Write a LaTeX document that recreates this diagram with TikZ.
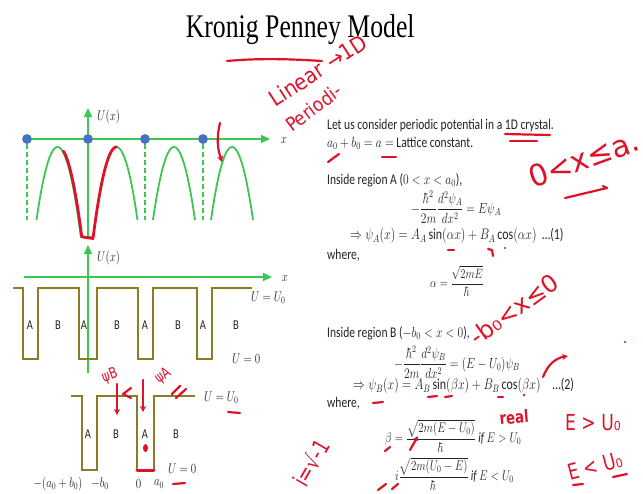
\RequirePackage{fix-cm}
\documentclass[tikz,border=0pt]{standalone}
\usepackage{amsmath}
\usepackage{graphicx}
\usepackage{fontspec}
\setmainfont{Carlito}
\newfontfamily\titlefont{Liberation Serif}
\newfontfamily\handfont{DejaVu Sans}
\usetikzlibrary{arrows.meta}
\definecolor{axgreen}{RGB}{60,200,80}
\definecolor{dotblue}{RGB}{70,114,196}
\definecolor{olivewave}{RGB}{140,124,40}
\definecolor{penred}{RGB}{222,18,40}
\definecolor{textgray}{RGB}{35,35,35}
\newcommand{\sq}[1]{\scalebox{0.78}[1]{#1}}
\newcommand{\hsq}[1]{\scalebox{0.9}[1]{#1}}
\newcommand{\hw}[1]{\handfont\fontsize{#1}{#1}\selectfont}
\newcommand{\fs}[1]{\fontsize{#1}{#1}\selectfont}
\begin{document}
\begin{tikzpicture}[x=1pt,y=-1pt,
  gax/.style={draw=axgreen,line width=2pt,-{Triangle[width=8pt,length=9pt]}},
  gcurve/.style={draw=axgreen,line width=1.8pt},
  gdash/.style={draw=axgreen,line width=1.8pt,dash pattern=on 5pt off 3pt},
  bdot/.style={circle,fill=dotblue,inner sep=0pt,minimum size=9.5pt},
  wave/.style={draw=olivewave,line width=2pt},
  txt/.style={inner sep=0pt,text=textgray,font=\fs{14.8}},
  lab/.style={inner sep=0pt,text=textgray,font=\fs{14}},
  redpen/.style={draw=penred,line width=2.2pt,line cap=round,line join=round},
  redtxt/.style={inner sep=0pt,text=penred}]
\useasboundingbox (0,0) rectangle (643,493);
\clip (0,0) rectangle (643,493);
\fill[white] (0,0) rectangle (643,493);

% ---------- title ----------
\node[anchor=base,inner sep=0pt,text=black] (title) at (297,37)
  {\sq{\titlefont\fs{33} Kronig Penney Model}};

% ---------- top diagram ----------
\node[bdot] (d1) at (27,139) {};
\node[bdot] (d2) at (88,139) {};
\node[bdot] (d3) at (145,139) {};
\node[bdot] (d4) at (203,139) {};
\coordinate (xa1) at (270,139);
\coordinate (ya1b) at (88,238);
\coordinate (ya1t) at (88,108);
\draw[gax] (ya1b) -- (ya1t);
\draw[gax] (d1.center) -- (xa1);
\node[bdot] at (27,139) {};
\node[bdot] at (88,139) {};
\node[bdot] at (145,139) {};
\node[bdot] at (203,139) {};
\coordinate (f1) at (27,220);
\coordinate (f3) at (145,220);
\coordinate (f4) at (203,220);
\draw[gdash] (d1) -- (f1);
\draw[gdash] (d3) -- (f3);
\draw[gdash] (d4) -- (f4);
\draw[gcurve] plot[domain=-21:23.3,samples=40] ({57.5+\x},{147+73*(\x/21)^2})
   -- plot[domain=-23.3:21,samples=40] ({116.5+\x},{147+73*(\x/21)^2});
\draw[gcurve] plot[domain=-21:21,samples=40] ({174+\x},{147+73*(\x/21)^2});
\draw[gcurve] plot[domain=-21:21,samples=40] ({232+\x},{147+73*(\x/21)^2});
\node[lab,anchor=west] (u1) at (97,117) {\sq{$U(x)$}};
\node[lab] (x1) at (284,140) {\sq{$x$}};

% red trace on top diagram
\draw[redpen,line width=2.8pt] plot[domain=5:23.3,samples=30] ({58.5+\x},{147+73*(\x/21)^2})
   -- (93,238.5) -- plot[domain=-23:0,samples=30] ({116.5+\x},{147+73*(\x/21)^2});
\coordinate (ra1) at (220,123);
\coordinate (ra2) at (222,162);
\draw[redpen,-{Stealth[length=6pt,width=6pt]}] (ra1) .. controls (216,140) and (218,150) .. (ra2);

% ---------- middle diagram ----------
\coordinate (ya2b) at (88,373);
\coordinate (ya2t) at (88,245);
\coordinate (xa2l) at (24,277);
\coordinate (xa2r) at (272,277);
\draw[gax] (ya2b) -- (ya2t);
\draw[gax] (xa2l) -- (xa2r);
\draw[wave] (13,288) -- (23,288) -- (23,359) -- (38,359) -- (38,288) -- (79,288) -- (79,359)
  -- (97,359) -- (97,288) -- (138,288) -- (138,359) -- (153,359) -- (153,288) -- (197,288)
  -- (197,359) -- (212,359) -- (212,288) -- (252,288);
\node[lab,anchor=west] (u2) at (97,258) {\sq{$U(x)$}};
\node[lab] (x2) at (285,278) {\sq{$x$}};
\foreach \p/\l in {30/A,58/B,84/A,117/B,145/A,178/B,203/A,236/B}
  \node[txt,font=\fs{13.5}] at (\p,325) {\sq{\l}};
\node[lab,anchor=west] (uu0a) at (251,298) {\sq{$U=U_0$}};
\node[lab,anchor=west] (u0a) at (232,359) {\sq{$U=0$}};

% ---------- bottom diagram ----------
\draw[wave] (71,396) -- (82,396) -- (82,470) -- (97,470) -- (97,396) -- (137,396) -- (137,470)
  -- (154,470) -- (154,396) -- (195,396);
\foreach \p/\l in {88/A,116/B,145/A,176/B}
  \node[txt,font=\fs{13.5}] at (\p,434) {\sq{\l}};
\node[lab,anchor=west] (uu0b) at (204,398) {\sq{$U=U_0$}};
\node[lab,anchor=west] (u0b) at (168,469) {\sq{$U=0$}};
\node[lab] (t1) at (58,484) {\sq{$-(a_0+b_0)$}};
\node[lab] (t2) at (100,484) {\sq{$-b_0$}};
\node[lab] (t3) at (138.5,484) {\sq{$0$}};
\node[lab] (t4) at (159,484) {\sq{$a_0$}};

% red marks on bottom diagram
\draw[redpen,line width=3pt] (137,470) -- (154,470);
\fill[penred] (145.5,448) ellipse (2.5pt and 4pt);
\draw[redpen] (228,412) -- (240,413);
\draw[redpen] (173,484) -- (185,483);
\node[redtxt,rotate=20] (psib) at (110,376) {\hw{15}\sq{ψB}};
\node[redtxt,rotate=35] (psia) at (163,376) {\hw{15}\sq{ψA}};
\coordinate (pb1) at (117,384);
\coordinate (pb2) at (117,415);
\coordinate (pa1) at (143,380);
\coordinate (pa2) at (143,412);
\draw[redpen,-{Stealth[length=6pt,width=6pt]}] (pb1) -- (pb2);
\draw[redpen,-{Stealth[length=6pt,width=6pt]}] (pa1) -- (pa2);
\draw[redpen] (131,388) -- (123,394) -- (131,398);
\draw[redpen] (172,394) -- (180,386);
\draw[redpen] (176,398) -- (186,389);

% ---------- right column text ----------
\node[txt,anchor=base west] (l1) at (327,129) {\sq{Let us consider periodic potential in a 1D crystal.}};
\node[txt,anchor=base west] (l2) at (327,147) {\sq{$a_0+b_0=a=$ Lattice constant.}};
\node[txt,anchor=base west] (l3) at (327,184) {\sq{Inside region A ($0<x<a_0$),}};
\node[txt,font=\fs{14.7}] (e1) at (456,207) {\sq{$\displaystyle -\frac{\hbar^2}{2m}\frac{d^2\psi_A}{dx^2}=E\psi_A$}};
\node[txt,font=\fs{15.3},anchor=west] (e2) at (350,236) {\sq{$\Rightarrow\psi_A(x)=A_A\sin(\alpha x)+B_A\cos(\alpha x)$\ \ \dots(1)}};
\node[txt,anchor=base west] (w1) at (327,259) {\sq{where,}};
\node[txt,font=\fs{13.5}] (e3) at (457,281) {\sq{$\displaystyle \alpha=\frac{\sqrt{2mE}}{\hbar}$}};
\node[txt,anchor=base west] (l4) at (327,337) {\sq{Inside region B ($-b_0<x<0$),}};
\node[txt,font=\fs{14.7}] (e4) at (457,362) {\sq{$\displaystyle -\frac{\hbar^2}{2m}\frac{d^2\psi_B}{dx^2}=(E-U_0)\psi_B$}};
\node[txt,font=\fs{15.3},anchor=west] (e5) at (353,386) {\sq{$\Rightarrow\psi_B(x)=A_B\sin(\beta x)+B_B\cos(\beta x)$\quad\dots(2)}};
\node[txt,anchor=base west] (w2) at (327,407) {\sq{where,}};
\node[txt,font=\fs{14},anchor=west] (e6) at (385,436) {\sq{$\displaystyle \beta=\frac{\sqrt{2m(E-U_0)}}{\hbar}\ \mathit{if}\ E>U_0$}};
\node[txt,font=\fs{14},anchor=west] (e7) at (395,474) {\sq{$\displaystyle i\frac{\sqrt{2m(U_0-E)}}{\hbar}\ \mathit{if}\ E<U_0$}};

% ---------- handwritten annotations ----------
\draw[redpen] (227,61) .. controls (260,58) and (290,59) .. (322,61);
\node[redtxt,anchor=base west,rotate=33] (h1) at (275,108) {\hw{22}\hsq{Linear →1D}};
\node[redtxt,anchor=base west,rotate=37] (h2) at (292,133) {\hw{19}\hsq{Periodi-}};
\draw[redpen] (505,134) -- (550,135);
\draw[redpen] (510,141) -- (537,141);
\draw[redpen] (328,162) -- (339,154);
\draw[redpen] (382,157) -- (396,157);
\node[redtxt,anchor=base west,rotate=20] (h3) at (533,189) {\hw{30}0<x≤a.};
\draw[redpen] (565,198) -- (607,188) -- (603,186);
\draw[redpen] (448,250) -- (454,250);
\draw[redpen] (488,249) -- (492,250) -- (493,256);
\fill[penred] (505,248) circle (1.2pt);
\node[redtxt,anchor=base west,rotate=36] (h4) at (477,347) {\hw{24}-b₀<x≤0};
\coordinate (ar1) at (543,377);
\coordinate (ar2) at (568,356);
\draw[redpen,-{Stealth[length=6pt,width=6pt]}] (ar1) .. controls (548,364) and (556,358) .. (ar2);
\fill[penred] (625,342) circle (1.2pt);
\draw[redpen] (428,397) -- (437,396);
\draw[redpen] (445,397) -- (452,396);
\draw[redpen] (498,397) -- (503,397);
\fill[penred] (524,395) circle (1.3pt);
\draw[redpen] (373,403) -- (383,402);
\node[redtxt,anchor=base west,rotate=5] (h5) at (500,425) {\hw{17}\sq{\bfseries real}};
\node[redtxt,anchor=base west] (h6) at (565,430) {\hw{22}\sq{E > U₀}};
\node[redtxt,anchor=base west,rotate=15] (h7) at (570,481) {\hw{22}\sq{E < U₀}};
\draw[redpen] (573,485) -- (583,484);
\draw[redpen] (613,477) -- (627,474);
\draw[redpen] (385,451) -- (390,447);
\coordinate (sa1) at (410,450);
\coordinate (sa2) at (418,436);
\draw[redpen,-{Stealth[length=5pt,width=5pt]}] (sa1) -- (sa2);
\draw[redpen] (378,490) -- (386,484);
\draw[redpen] (392,489) -- (398,484);
\node[redtxt,anchor=base west,rotate=60] (h8) at (306,489) {\hw{23}\sq{i=√-1}};
\end{tikzpicture}
\end{document}
